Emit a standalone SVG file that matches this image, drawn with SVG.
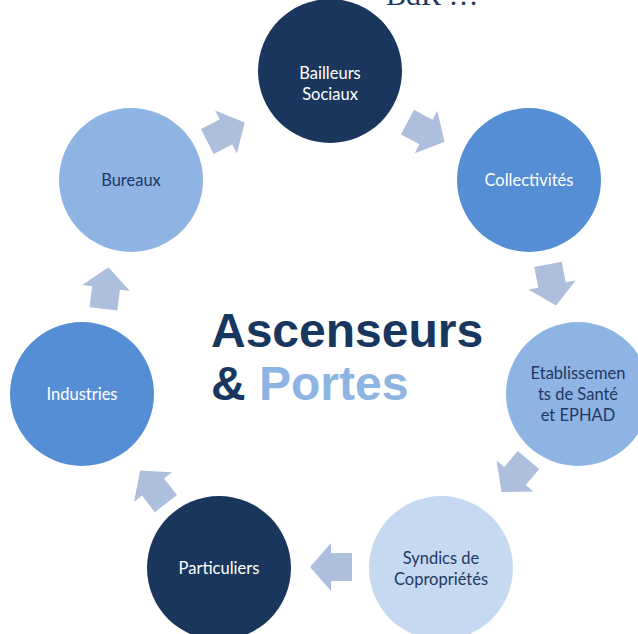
<svg xmlns="http://www.w3.org/2000/svg" width="638" height="634" viewBox="0 0 638 634">
<style>
.n text{font-family:Lato,"Open Sans","Liberation Sans",sans-serif;font-size:16.5px;text-anchor:middle}
.w{fill:#ffffff}.d{fill:#1f3864}
.arr{fill:#adbfdc}
</style>
<defs>
<path id="ar" d="M-21,-14 L0,-14 L0,-24 L21,0 L0,24 L0,14 L-21,14 Z"/>
</defs>
<rect width="638" height="634" fill="#ffffff"/>
<text x="386" y="5" font-family="Liberation Serif,serif" font-size="30" fill="#1f3864">BdR …</text>
<g id="connectors" class="arr">
<use href="#ar" transform="translate(226,132) rotate(-27)"/>
<use href="#ar" transform="translate(426,132) rotate(28)"/>
<use href="#ar" transform="translate(552,285) rotate(79)"/>
<use href="#ar" transform="translate(515,476) rotate(130)"/>
<use href="#ar" transform="translate(331,567) rotate(180)"/>
<use href="#ar" transform="translate(153,487) rotate(232)"/>
<use href="#ar" transform="translate(106,288) rotate(-83)"/>
</g>
<g id="bailleurs" class="n"><circle cx="330" cy="71" r="72" fill="#1b365d"/><text class="w" x="330" y="79">Bailleurs</text><text class="w" x="330" y="100">Sociaux</text></g>
<g id="collectivites" class="n"><circle cx="529" cy="180" r="72" fill="#558ed5"/><text class="w" x="529" y="186">Collectivités</text></g>
<g id="etablissements" class="n"><circle cx="578" cy="394" r="72" fill="#8eb4e3"/><text class="d" x="578" y="379">Etablissemen</text><text class="d" x="578" y="400">ts de Santé</text><text class="d" x="578" y="421">et EPHAD</text></g>
<g id="syndics" class="n"><circle cx="441" cy="568" r="72" fill="#c6d9f1"/><text class="d" x="441" y="564">Syndics de</text><text class="d" x="441" y="585">Copropriétés</text></g>
<g id="particuliers" class="n"><circle cx="219" cy="568" r="72" fill="#1b365d"/><text class="w" x="219" y="574">Particuliers</text></g>
<g id="industries" class="n"><circle cx="82" cy="394" r="72" fill="#558ed5"/><text class="w" x="82" y="400">Industries</text></g>
<g id="bureaux" class="n"><circle cx="131" cy="180" r="72" fill="#8eb4e3"/><text class="d" x="131" y="186">Bureaux</text></g>
<g id="title" font-family="Liberation Sans,Arial,sans-serif" font-weight="bold" font-size="48">
<text x="211" y="347" fill="#17375e">Ascenseurs</text>
<text x="211" y="400"><tspan fill="#17375e">&amp; </tspan><tspan fill="#8eb4e3">Portes</tspan></text>
</g>
</svg>
